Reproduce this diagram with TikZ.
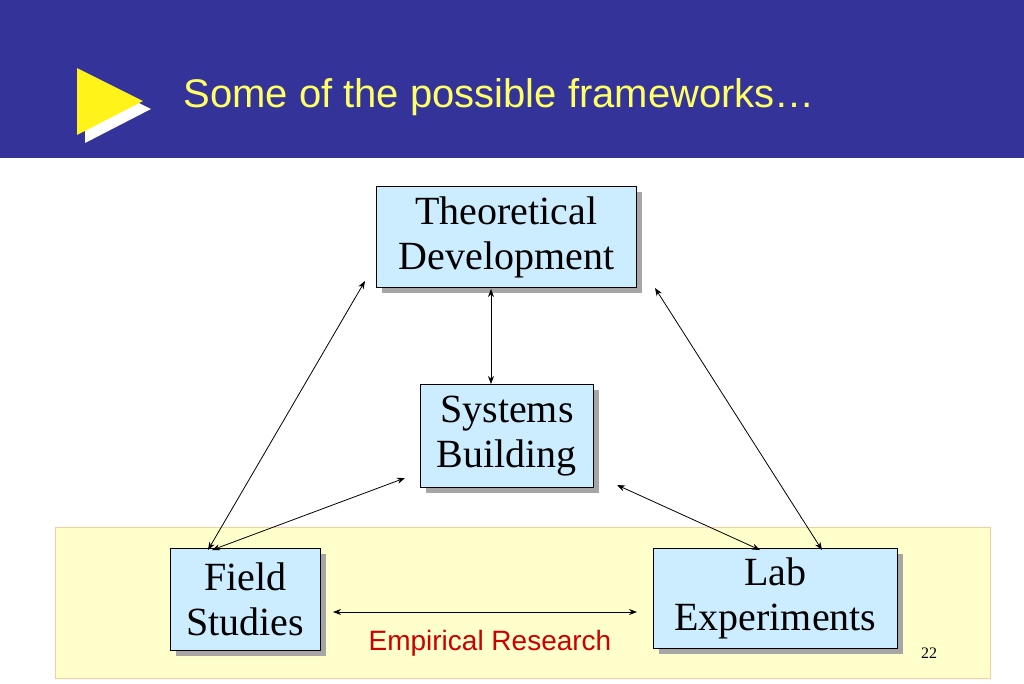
\documentclass[tikz,border=0pt]{standalone}
\usepackage{fontspec}
\setmainfont{Liberation Serif}
\newfontfamily\arial{Liberation Sans}
\usetikzlibrary{arrows.meta}
\definecolor{hdr}{RGB}{51,51,153}
\definecolor{boxbl}{RGB}{204,236,255}
\definecolor{pale}{RGB}{255,255,204}
\definecolor{ttl}{RGB}{255,255,102}
\definecolor{redt}{RGB}{204,0,0}
\tikzset{
  fbox/.style={draw=black, line width=0.8pt, fill=boxbl, align=center, font=\fontsize{40}{45}\selectfont, inner sep=0pt, anchor=north west},
  dbl/.style={{Stealth[length=8pt,width=6pt]}-{Stealth[length=8pt,width=6pt]}, line width=0.8pt}
}
\begin{document}
\begin{tikzpicture}[x=1pt,y=-1pt]
\useasboundingbox (0,0) rectangle (1024,683);
\fill[white] (0,0) rectangle (1024,683);
\fill[hdr] (0,0) rectangle (1024,158);
\fill[white] (85,76) -- (85,143) -- (151,109) -- cycle;
\fill[yellow!90!white] (77,68) -- (77,135) -- (143,101) -- cycle;
\node[anchor=west, text=ttl, font=\arial\fontsize{40}{44}\selectfont] (title) at (180,97) {Some of the possible frameworks\dots};
\draw[fill=pale, draw=orange!40] (55,527) rectangle (990,678);
% shadows
\foreach \a/\b/\c/\d in {376/186/636/287, 420/384/593/487, 170/548/320/650, 653/548/897/648}
  \fill[gray!70] (\a+6,\b+6) rectangle (\c+6,\d+6);
\node[fbox, minimum width=260pt, minimum height=101pt] (th) at (376,186) {Theoretical\\Development};
\node[fbox, minimum width=173pt, minimum height=103pt] (sy) at (420,384) {Systems\\Building};
\node[fbox, minimum width=150pt, minimum height=102pt] (fi) at (170,548) {Field\\Studies};
\node[fbox, minimum width=244pt, minimum height=100pt] (la) at (653,548) {Lab\\Experiments};
\coordinate (a1) at (365,281); \coordinate (a2) at (208,550);
\coordinate (b1) at (491,289); \coordinate (b2) at (491,384);
\coordinate (c1) at (655,288); \coordinate (c2) at (822,550);
\coordinate (d1) at (405,478); \coordinate (d2) at (212,550);
\coordinate (e1) at (617,485); \coordinate (e2) at (760,550);
\coordinate (f1) at (333,612); \coordinate (f2) at (637,612);
\draw[dbl] (a1) -- (a2);
\draw[dbl] (b1) -- (b2);
\draw[dbl] (c1) -- (c2);
\draw[dbl] (d1) -- (d2);
\draw[dbl] (e1) -- (e2);
\draw[dbl] (f1) -- (f2);
\node[text=redt, font=\arial\fontsize{28}{30}\selectfont] (emp) at (490,643) {Empirical Research};
\node[font=\fontsize{16}{18}\selectfont] (pg) at (929,653) {22};
\end{tikzpicture}
\end{document}
